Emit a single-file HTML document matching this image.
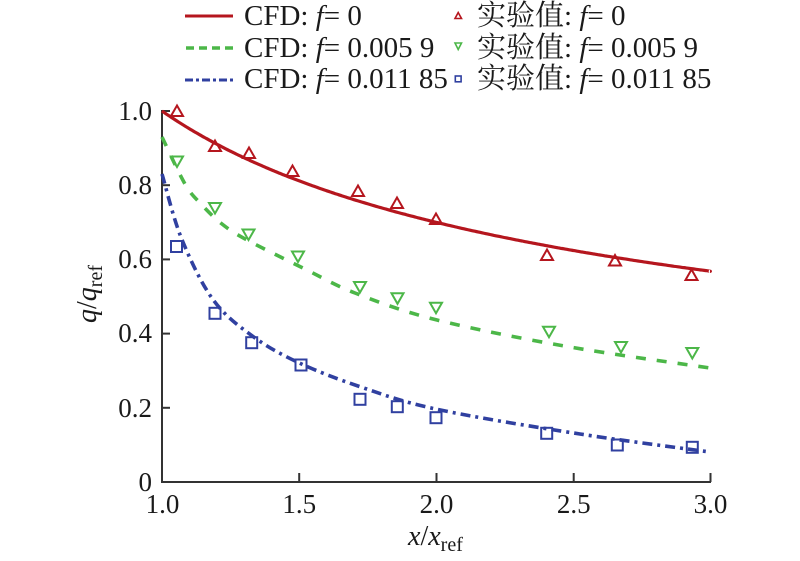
<!DOCTYPE html>
<html>
<head>
<meta charset="utf-8">
<style>
html,body{margin:0;padding:0;background:#fff;}
svg{display:block;}
text{font-family:"Liberation Serif","Noto Serif CJK SC",serif;fill:#1a1a1a;}
</style>
</head>
<body>
<svg id="chart" width="800" height="561" viewBox="0 0 800 561" xmlns="http://www.w3.org/2000/svg">
  <rect width="800" height="561" fill="#fff"/>

  <!-- Legend left column -->
  <line x1="185" y1="16" x2="233" y2="16" stroke="#b5161e" stroke-width="3"/>
  <line x1="186" y1="48" x2="233" y2="48" stroke="#4cb748" stroke-width="3.5" stroke-dasharray="8 5"/>
  <line x1="185" y1="80" x2="233" y2="80" stroke="#3040a0" stroke-width="3" stroke-dasharray="8 3 3 3"/>
  <text x="244" y="25" font-size="29">CFD: <tspan font-style="italic">f</tspan>= 0</text>
  <text x="244" y="57" font-size="29">CFD: <tspan font-style="italic">f</tspan>= 0.005 9</text>
  <text x="244" y="88" font-size="29">CFD: <tspan font-style="italic">f</tspan>= 0.011 85</text>

  <!-- Legend right column -->
  <polygon points="455,18.5 461.5,18.5 458.2,12.5" fill="none" stroke="#b5161e" stroke-width="1.6"/>
  <polygon points="455,43 461.5,43 458.2,49.5" fill="none" stroke="#4cb748" stroke-width="1.6"/>
  <rect x="455.3" y="76" width="5.8" height="5.8" fill="none" stroke="#3040a0" stroke-width="1.6"/>
  <text x="477" y="25" font-size="29">实验值: <tspan font-style="italic">f</tspan>= 0</text>
  <text x="477" y="57" font-size="29">实验值: <tspan font-style="italic">f</tspan>= 0.005 9</text>
  <text x="477" y="88" font-size="29">实验值: <tspan font-style="italic">f</tspan>= 0.011 85</text>

  <!-- Axes -->
  <g stroke="#333" stroke-width="2" fill="none">
    <line x1="162" y1="110" x2="162" y2="483"/>
    <line x1="161" y1="482" x2="711" y2="482"/>
    <line x1="162" y1="111" x2="170" y2="111"/>
    <line x1="162" y1="185.2" x2="170" y2="185.2"/>
    <line x1="162" y1="259.4" x2="170" y2="259.4"/>
    <line x1="162" y1="333.6" x2="170" y2="333.6"/>
    <line x1="162" y1="407.8" x2="170" y2="407.8"/>
    <line x1="299.2" y1="482" x2="299.2" y2="473"/>
    <line x1="436.5" y1="482" x2="436.5" y2="473"/>
    <line x1="573.7" y1="482" x2="573.7" y2="473"/>
    <line x1="710.5" y1="482" x2="710.5" y2="473"/>
  </g>

  <!-- y tick labels -->
  <g font-size="27" text-anchor="end">
    <text x="152" y="120">1.0</text>
    <text x="152" y="194">0.8</text>
    <text x="152" y="268">0.6</text>
    <text x="152" y="342">0.4</text>
    <text x="152" y="417">0.2</text>
    <text x="152" y="491">0</text>
  </g>
  <!-- x tick labels -->
  <g font-size="27" text-anchor="middle">
    <text x="162.5" y="513">1.0</text>
    <text x="299.2" y="513">1.5</text>
    <text x="436.5" y="513">2.0</text>
    <text x="573.7" y="513">2.5</text>
    <text x="710.5" y="513">3.0</text>
  </g>

  <!-- axis titles -->
  <text x="408" y="545" font-size="28"><tspan font-style="italic">x</tspan>/<tspan font-style="italic">x</tspan><tspan font-size="20" dy="6">ref</tspan></text>
  <text transform="translate(96,323) rotate(-90)" font-size="28"><tspan font-style="italic">q</tspan>/<tspan font-style="italic">q</tspan><tspan font-size="20" dy="6">ref</tspan></text>

  <!-- curves -->
  <path id="cRed" fill="none" stroke="#b5161e" stroke-width="3.2"/>
  <path id="cGreen" fill="none" stroke="#4cb748" stroke-width="3.6" stroke-dasharray="10 11"/>
  <path id="cBlue" fill="none" stroke="#3040a0" stroke-width="3.6" stroke-dasharray="10 5 3 5"/>

  <g id="markers" fill="none" stroke-width="2"></g>
</svg>
<script>
(function(){
  function cr(pts){
    var d="M"+pts[0][0].toFixed(1)+","+pts[0][1].toFixed(1);
    for(var i=0;i<pts.length-1;i++){
      var p0=pts[i>0?i-1:i],p1=pts[i],p2=pts[i+1],p3=pts[i+2<pts.length?i+2:i+1];
      var c1x=p1[0]+(p2[0]-p0[0])/6,c1y=p1[1]+(p2[1]-p0[1])/6;
      var c2x=p2[0]-(p3[0]-p1[0])/6,c2y=p2[1]-(p3[1]-p1[1])/6;
      d+=" C"+c1x.toFixed(1)+","+c1y.toFixed(1)+" "+c2x.toFixed(1)+","+c2y.toFixed(1)+" "+p2[0].toFixed(1)+","+p2[1].toFixed(1);
    }
    return d;
  }
  var red=[];
  for(var px=162;px<=710;px+=4){
    var x=1+(px-162)/274.5;
    red.push([px,482-371*Math.pow(x,-0.515)]);
  }
  red.push([710,482-371*Math.pow(3,-0.515)]);
  document.getElementById("cRed").setAttribute("d",cr(red));
  var green=[[162,137],[185,184],[201,204],[222,224],[247,240],[303,268],[355,293],[437,320],[567,346.5],[710,368]];
  document.getElementById("cGreen").setAttribute("d",cr(green));
  var blue=[[162,174],[181.7,239],[213.3,300],[253.3,336.7],[300,363.3],[360,386.7],[437,409.3],[580,434],[710,452]];
  document.getElementById("cBlue").setAttribute("d",cr(blue));

  var g=document.getElementById("markers"),ns="http://www.w3.org/2000/svg";
  var R=[[177,111],[215,146],[249,153],[292.5,171],[358,191],[397,203],[436,219],[547,255],[615,260.5],[691.5,275]];
  var G=[[177,161.5],[215,208],[248.5,234.5],[298,256.5],[360,287],[397.5,298.3],[436,307.7],[549,331.7],[621,347],[692.3,353]];
  var B=[[176.5,246.5],[215,313.3],[251.7,342.7],[301,365],[360,399.3],[397.3,406.7],[436,417.7],[546.7,433.3],[617.3,445],[692.3,447.3]];
  R.forEach(function(p){
    var e=document.createElementNS(ns,"polygon");
    e.setAttribute("points",(p[0]-6)+","+(p[1]+5)+" "+(p[0]+6)+","+(p[1]+5)+" "+p[0]+","+(p[1]-5.5));
    e.setAttribute("stroke","#b5161e");g.appendChild(e);
  });
  G.forEach(function(p){
    var e=document.createElementNS(ns,"polygon");
    e.setAttribute("points",(p[0]-6)+","+(p[1]-5)+" "+(p[0]+6)+","+(p[1]-5)+" "+p[0]+","+(p[1]+5.5));
    e.setAttribute("stroke","#4cb748");g.appendChild(e);
  });
  B.forEach(function(p){
    var e=document.createElementNS(ns,"rect");
    e.setAttribute("x",p[0]-5.5);e.setAttribute("y",p[1]-5.5);
    e.setAttribute("width",11);e.setAttribute("height",11);
    e.setAttribute("stroke","#3040a0");g.appendChild(e);
  });
})();
</script>
</body>
</html>
